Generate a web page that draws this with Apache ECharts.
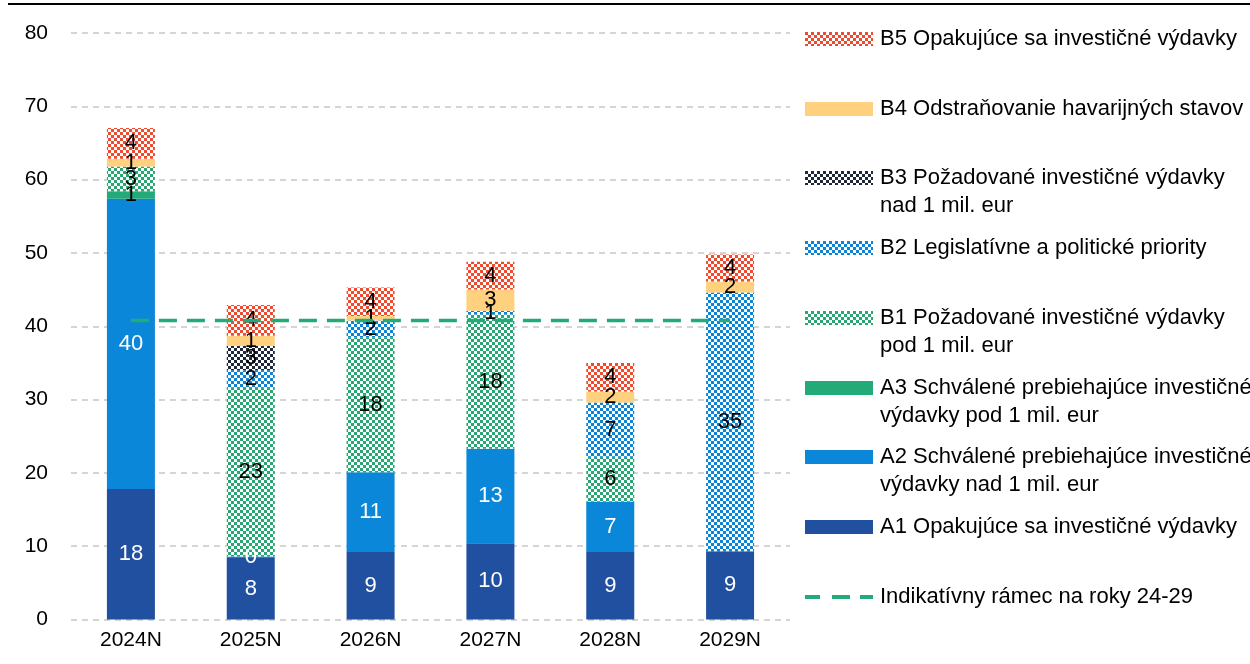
<!DOCTYPE html>
<html>
<head>
<meta charset="utf-8">
<script src="https://cdn.jsdelivr.net/npm/echarts@6/dist/echarts.min.js"></script>
<style>
html, body { margin: 0; background: #fff; }
#main { width: 1250px; height: 664px; }
</style>
</head>
<body>
<div id="main"></div>
<script>
// data
var categories = ['2024N', '2025N', '2026N', '2027N', '2028N', '2029N'];
var a1 = [17.8, 8.4, 9.2, 10.4, 9.2, 9.3];
var a2 = [39.6, 0.2, 10.9, 12.9, 6.9, 0];
var a3 = [1.0, 0, 0, 0, 0, 0];
var b1 = [3.4, 23.0, 18.4, 18.3, 6.1, 0];
var b2 = [0, 2.4, 2.3, 0.5, 7.4, 35.3];
var b3 = [0, 3.3, 0, 0, 0, 0];
var b4 = [1.05, 1.4, 0.6, 2.9, 1.5, 1.5];
var b5 = [4.2, 4.2, 3.9, 3.8, 3.9, 3.7];
var ramec = [40.8, 40.8, 40.8, 40.8, 40.8, 40.8];
var yTicks = [0, 10, 20, 30, 40, 50, 60, 70, 80];

var FONT = 'Liberation Sans, Arial, sans-serif';
var FS = 21;
var LFS = 22;
var LH = 28;

// checker pattern like the excel fills
function checker(color, size) {
    var c = document.createElement('canvas');
    c.width = c.height = size * 2;
    var ctx = c.getContext('2d');
    ctx.fillStyle = '#ffffff';
    ctx.fillRect(0, 0, size * 2, size * 2);
    ctx.fillStyle = color;
    ctx.fillRect(0, 0, size, size);
    ctx.fillRect(size, size, size, size);
    return { image: c, repeat: 'repeat' };
}

function lbl(color) {
    return {
        show: true,
        position: 'inside',
        color: color,
        fontFamily: FONT,
        fontSize: 22,
        formatter: function (p) { return p.value === 0 ? '' : String(Math.round(p.value)); }
    };
}

function barSeries(name, data, color, labelColor) {
    return {
        name: name,
        type: 'bar',
        stack: 'total',
        barWidth: 48,
        data: data,
        itemStyle: { color: color },
        label: lbl(labelColor),
        emphasis: { disabled: true }
    };
}

var names = {
    b5: 'B5 Opakujúce sa investičné výdavky',
    b4: 'B4 Odstraňovanie havarijných stavov',
    b3: 'B3 Požadované investičné výdavky\nnad 1 mil. eur',
    b2: 'B2 Legislatívne a politické priority',
    b1: 'B1 Požadované investičné výdavky\npod 1 mil. eur',
    a3: 'A3 Schválené prebiehajúce investičné\nvýdavky pod 1 mil. eur',
    a2: 'A2 Schválené prebiehajúce investičné\nvýdavky nad 1 mil. eur',
    a1: 'A1 Opakujúce sa investičné výdavky',
    r: 'Indikatívny rámec na roky 24-29'
};

var series = [
    barSeries(names.a1, a1, '#20509F', '#ffffff'),
    barSeries(names.a2, a2, '#0A87D9', '#ffffff'),
    barSeries(names.a3, a3, '#22AA78', '#000000'),
    barSeries(names.b1, b1, checker('#2AA675', 3), '#000000'),
    barSeries(names.b2, b2, checker('#0B84D6', 3), '#000000'),
    barSeries(names.b3, b3, checker('#1E2838', 3), '#000000'),
    barSeries(names.b4, b4, '#FFD17F', '#000000'),
    barSeries(names.b5, b5, checker('#F04A2E', 3), '#000000'),
    {
        name: names.r,
        type: 'line',
        data: ramec,
        symbol: 'none',
        z: 5,
        lineStyle: { color: '#22AA78', width: 3.5, type: [18, 10] },
        itemStyle: { color: '#22AA78' }
    }
];

// one legend per item so the icon sits on the first text line
var legendOrder = ['b5', 'b4', 'b3', 'b2', 'b1', 'a3', 'a2', 'a1', 'r'];
var iconY = [39, 109, 178, 248, 318, 388, 457, 527, 597];
var dashIcon = 'path://M0,0h15v4h-15z M27,0h18v4h-18z M55,0h13v4h-13z';
var legends = legendOrder.map(function (k, i) {
    var two = names[k].indexOf('\n') >= 0;
    var isLine = k === 'r';
    return {
        data: [{ name: names[k], icon: isLine ? dashIcon : 'rect' }],
        // blank first line keeps the icon level with the first text line
        formatter: function (name) { return two ? '\n' + name : name; },
        left: 805,
        top: iconY[i] - (two ? 1.5 * LH : 0.5 * LH),
        padding: 0,
        itemWidth: 68,
        itemHeight: isLine ? 4 : 14,
        selectedMode: false,
        textStyle: {
            fontFamily: FONT,
            fontSize: LFS,
            color: '#000',
            lineHeight: LH,
            padding: [0, 0, 0, 2]
        }
    };
});

var myChart = echarts.init(document.getElementById('main'));
var option = {
    animation: false,
    backgroundColor: '#fff',
    grid: { left: 71, right: 460, top: 33, bottom: 44.5 },
    legend: legends,
    graphic: [{
        type: 'line',
        shape: { x1: 8, y1: 4, x2: 1250, y2: 4 },
        style: { stroke: '#000', lineWidth: 2 }
    }],
    xAxis: {
        type: 'category',
        data: categories,
        axisLine: { show: false },
        axisTick: { show: false },
        axisLabel: { color: '#000', fontFamily: FONT, fontSize: FS, margin: 10 }
    },
    yAxis: {
        type: 'value',
        min: yTicks[0],
        max: yTicks[yTicks.length - 1],
        interval: 10,
        axisLine: { show: false },
        axisTick: { show: false },
        axisLabel: { color: '#000', fontFamily: FONT, fontSize: FS, margin: 23 },
        splitLine: { lineStyle: { color: '#C8C8C8', type: [6, 5], width: 1.5 } }
    },
    series: series
};
myChart.setOption(option);
</script>
</body>
</html>
